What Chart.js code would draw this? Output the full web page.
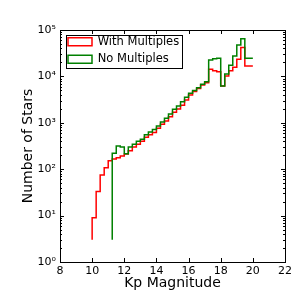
<!DOCTYPE html>
<html>
<head>
<meta charset="utf-8">
<script src="https://cdn.jsdelivr.net/npm/chart.js@4.4.0/dist/chart.umd.min.js"></script>
<style>
  html, body { margin: 0; padding: 0; background: #fff; }
</style>
</head>
<body>
<canvas id="chart" width="300" height="300"></canvas>
<script>
// bin left edges and counts
const binsWithMultiples = [10, 10.25, 10.5, 10.75, 11, 11.25, 11.5, 11.75, 12, 12.25,
    12.5, 12.75, 13, 13.25, 13.5, 13.75, 14, 14.25, 14.5, 14.75,
    15, 15.25, 15.5, 15.75, 16, 16.25, 16.5, 16.75, 17, 17.25,
    17.5, 17.75, 18, 18.25, 18.5, 18.75, 19, 19.25, 19.5, 19.75];
const countsWithMultiples = [3, 9, 33, 75, 108, 152, 165, 177, 193, 212,
    250, 300, 345, 400, 490, 550, 620, 760, 930, 1090,
    1350, 1690, 1990, 2400, 3100, 3950, 4700, 5500, 6500, 7300,
    14200, 13200, 12600, 6200, 10200, 13200, 15700, 23300, 42000, 16700];

const binsNoMultiples = [11.25, 11.5, 11.75, 12, 12.25,
    12.5, 12.75, 13, 13.25, 13.5, 13.75, 14, 14.25, 14.5, 14.75,
    15, 15.25, 15.5, 15.75, 16, 16.25, 16.5, 16.75, 17, 17.25,
    17.5, 17.75, 18, 18.25, 18.5, 18.75, 19, 19.25, 19.5, 19.75];
const countsNoMultiples = [3, 220, 315, 300, 215,
    300, 345, 400, 440, 550, 635, 720, 850, 1040, 1250,
    1550, 1950, 2300, 2840, 3540, 4350, 4950, 5700, 6800, 7700,
    22600, 24000, 24500, 6200, 11200, 17300, 27500, 47500, 65000, 24500];

const lastBinEnd = 20;
const xTickValues = [8, 10, 12, 14, 16, 18, 20, 22];
const yDecades = [0, 1, 2, 3, 4, 5];

const FONT = 'DejaVu Sans';
const SUP = ['\u2070', '\u00b9', '\u00b2', '\u00b3', '\u2074', '\u2075'];

function stepPoints(edges, counts, end) {
    const pts = edges.map((e, i) => ({ x: e, y: counts[i] }));
    pts.push({ x: end, y: counts[counts.length - 1] });
    return pts;
}

function isDecade(v) {
    const p = Math.log10(v);
    return Math.abs(p - Math.round(p)) < 1e-9;
}

// matplotlib style: box around the axes, ticks pointing inwards on all sides
const frameTicks = {
    id: 'frameTicks',
    beforeDraw(chart) {
        // a 'chartArea' legend gets top = 0 from Chart.js, put it back inside the axes
        const lg = chart.legend;
        const dy = chart.chartArea.top - lg.top;
        const dx = chart.chartArea.left + 2 - lg.left;
        if (dy !== 0 || dx !== 0) {
            lg.top += dy;
            lg.bottom += dy;
            lg.left += dx;
            lg.right += dx;
            (lg.legendHitBoxes || []).forEach(b => { b.top += dy; b.left += dx; });
        }
    },
    afterDraw(chart) {
        const { ctx, chartArea: a, scales } = chart;
        ctx.save();
        ctx.strokeStyle = '#000';
        ctx.lineWidth = 1;
        ctx.beginPath();
        scales.x.ticks.forEach(t => {
            const px = Math.round(scales.x.getPixelForValue(t.value)) + 0.5;
            ctx.moveTo(px, a.bottom); ctx.lineTo(px, a.bottom - 4);
            ctx.moveTo(px, a.top); ctx.lineTo(px, a.top + 4);
        });
        scales.y.ticks.forEach(t => {
            const len = isDecade(t.value) ? 4 : 2;
            const py = Math.round(scales.y.getPixelForValue(t.value)) + 0.5;
            ctx.moveTo(a.left, py); ctx.lineTo(a.left + len, py);
            ctx.moveTo(a.right, py); ctx.lineTo(a.right - len, py);
        });
        ctx.stroke();
        ctx.strokeRect(Math.round(a.left) + 0.5, Math.round(a.top) + 0.5,
            Math.round(a.width), Math.round(a.height));

        // border of the legend
        const hb = chart.legend.legendHitBoxes;
        if (hb && hb.length) {
            const l = Math.min(...hb.map(b => b.left)) - 2;
            const t = Math.min(...hb.map(b => b.top)) - 1.5;
            const r = Math.max(...hb.map(b => b.left + b.width)) + 3;
            const b = Math.max(...hb.map(b => b.top + b.height)) + 2.5;
            ctx.strokeRect(Math.round(l) + 0.5, Math.round(t) + 0.5, Math.round(r - l), Math.round(b - t));
        }
        ctx.restore();
    }
};

const ctx = document.getElementById('chart').getContext('2d');
new Chart(ctx, {
    type: 'line',
    data: {
        datasets: [{
            label: 'With Multiples',
            data: stepPoints(binsWithMultiples, countsWithMultiples, lastBinEnd),
            borderColor: '#ff0000',
            backgroundColor: 'rgba(255, 255, 255, 0)',
            borderWidth: 1.5,
            stepped: 'after',
            pointRadius: 0,
            fill: false,
            order: 1
        }, {
            label: 'No Multiples',
            data: stepPoints(binsNoMultiples, countsNoMultiples, lastBinEnd),
            borderColor: '#008000',
            backgroundColor: 'rgba(255, 255, 255, 0)',
            borderWidth: 1.5,
            stepped: 'after',
            pointRadius: 0,
            fill: false,
            order: 0
        }]
    },
    options: {
        responsive: false,
        animation: false,
        layout: { padding: { top: 30, right: 15, left: 0, bottom: 0 } },
        plugins: {
            legend: {
                position: 'chartArea',
                align: 'start',
                labels: {
                    boxWidth: 24,
                    boxHeight: 8,
                    padding: 6,
                    color: '#000',
                    font: { family: FONT, size: 11.5 },
                    sort: (a, b) => a.datasetIndex - b.datasetIndex
                }
            },
            tooltip: { enabled: false }
        },
        scales: {
            x: {
                type: 'linear',
                min: 8,
                max: 22,
                afterBuildTicks: s => { s.ticks = xTickValues.map(v => ({ value: v })); },
                afterFit: s => { s.height = 38; },
                grid: { display: false, drawTicks: false },
                border: { display: false },
                ticks: {
                    color: '#000',
                    padding: 3,
                    maxRotation: 0,
                    font: { family: FONT, size: 11 }
                },
                title: {
                    display: true,
                    text: 'Kp Magnitude',
                    color: '#000',
                    font: { family: FONT, size: 14 },
                    padding: { top: 0, bottom: 8 }
                }
            },
            y: {
                type: 'logarithmic',
                min: 1,
                max: 100000,
                afterBuildTicks: s => {
                    const ticks = [];
                    yDecades.forEach(p => {
                        const base = Math.pow(10, p);
                        if (p === yDecades[yDecades.length - 1]) {
                            ticks.push({ value: base });
                        } else {
                            for (let m = 1; m < 10; m++) ticks.push({ value: m * base });
                        }
                    });
                    s.ticks = ticks;
                },
                afterFit: s => { s.width = 60; },
                grid: { display: false, drawTicks: false },
                border: { display: false },
                ticks: {
                    color: '#000',
                    padding: 4,
                    autoSkip: false,
                    font: { family: FONT, size: 11 },
                    callback: function(value) {
                        if (!isDecade(value)) return '';
                        return '10' + SUP[Math.round(Math.log10(value))];
                    }
                },
                title: {
                    display: true,
                    text: 'Number of Stars',
                    color: '#000',
                    font: { family: FONT, size: 14 },
                    padding: { top: 20, bottom: 0 }
                }
            }
        }
    },
    plugins: [frameTicks]
});
</script>
</body>
</html>
